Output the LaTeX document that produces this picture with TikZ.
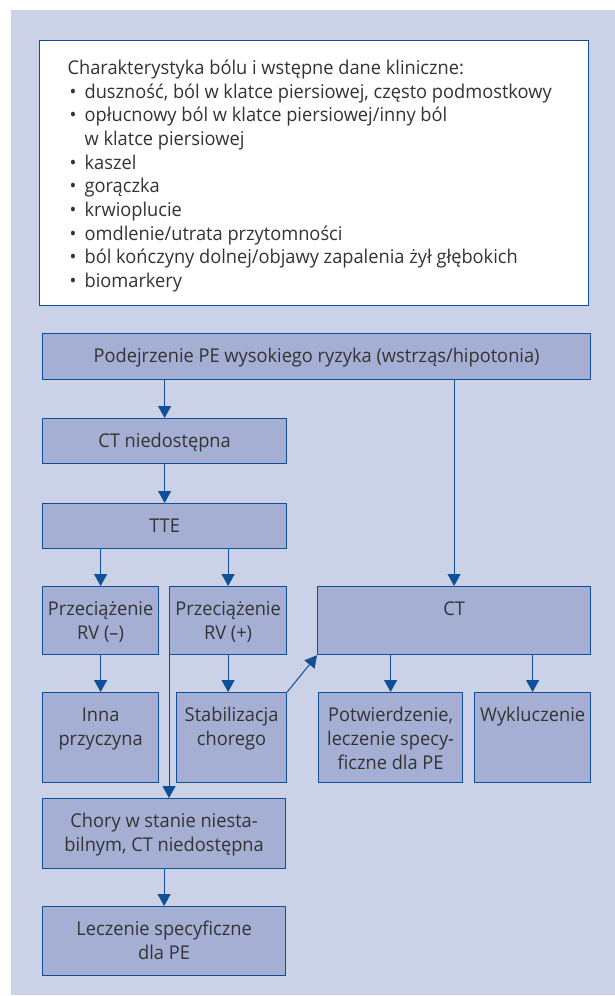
\documentclass[tikz,border=0pt]{standalone}
\usepackage{fontspec}
\setmainfont{Open Sans}[FakeStretch=0.96]
\usepackage{xcolor}
\usetikzlibrary{positioning,arrows.meta}
\definecolor{bgblue}{HTML}{CBD1E6}
\definecolor{boxblue}{HTML}{A5AFD3}
\definecolor{lineblue}{HTML}{0F4F97}
\definecolor{txtgray}{HTML}{333333}
\newcommand{\boxtext}[3]{\parbox[c][#2][t]{#1}{\centering\rule{0pt}{29pt}#3}}
\newcommand{\blt}{\makebox[17pt][l]{\hspace{2pt}\textbullet}}

\begin{document}
\begin{tikzpicture}[x=1pt,y=-1pt,
        box/.style={draw=lineblue,fill=boxblue,line width=1.2pt,inner sep=0pt,anchor=north west,text=txtgray,font=\fontsize{19}{24}\selectfont},
        infobox/.style={draw=lineblue,fill=white,line width=1.2pt,inner xsep=28pt,inner ysep=0pt,anchor=north west,text=txtgray,font=\fontsize{19}{23.67}\selectfont},
        arrow/.style={-{Triangle[length=12pt,width=13pt]},line width=1pt,draw=lineblue}]
    \useasboundingbox (0,0) rectangle (615,996);
    \fill[bgblue] (11,10) rectangle (615,995);
    \node[infobox] (info) at (39,40) {\parbox[c][265pt][t]{493pt}{\raggedright\rule{0pt}{34pt}Charakterystyka bólu i wstępne dane kliniczne:\\
        \blt duszność, ból w klatce piersiowej, często podmostkowy\\
        \blt opłucnowy ból w klatce piersiowej/inny ból\\
        \makebox[17pt]{}w klatce piersiowej\\
        \blt kaszel\\
        \blt gorączka\\
        \blt krwioplucie\\
        \blt omdlenie/utrata przytomności\\
        \blt ból kończyny dolnej/objawy zapalenia żył głębokich\\
        \blt biomarkery}};
    % gorna sciezka
    \node[box] (susp) at (42,333) {\boxtext{548pt}{46pt}{Podejrzenie PE wysokiego ryzyka (wstrząs/hipotonia)}};
    \node[box] (noct) at (42,418) {\boxtext{244pt}{45pt}{CT niedostępna}};
    \node[box] (tte) at (42,503) {\boxtext{244pt}{45pt}{TTE}};
    \node[box] (rvneg) at (42,586) {\boxtext{116pt}{68pt}{Przeciążenie\\RV (–)}};
    \node[box] (rvpos) at (169,586) {\boxtext{117pt}{68pt}{Przeciążenie\\RV (+)}};
    \node[box] (ct) at (317,586) {\boxtext{273pt}{68pt}{CT}};
    % dolny rzad
    \node[box] (other) at (42,692) {\boxtext{116pt}{90pt}{Inna\\przyczyna}};
    \node[box] (stab) at (176,692) {\boxtext{110pt}{90pt}{Stabilizacja\\chorego}};
    \node[box] (conf) at (318,692) {\boxtext{144pt}{90pt}{Potwierdzenie,\\leczenie specy-\\ficzne dla PE}};
    \node[box] (excl) at (474,692) {\boxtext{116pt}{90pt}{Wykluczenie}};
    \node[box] (unst) at (42,798) {\boxtext{243pt}{70pt}{Chory w stanie niesta-\\bilnym, CT niedostępna}};
    \node[box] (treat) at (42,906) {\boxtext{243pt}{69pt}{Leczenie specyficzne\\dla PE}};
    \draw[arrow] (susp.south -| noct.north) -- (noct.north);
    \draw[arrow] (susp.south -| ct.north) -- (ct.north);
    \draw[arrow] (noct) -- (tte);
    \draw[arrow] (tte.south -| rvneg.north) -- (rvneg.north);
    \draw[arrow] (tte.south -| rvpos.north) -- (rvpos.north);
    \draw[arrow] (rvneg) -- (other);
    \draw[arrow] (rvpos.south) -- (rvpos.south |- stab.north);
    \draw[arrow] (rvpos.south west) -- (rvpos.south west |- unst.north);
    \draw[arrow] (stab.north east) -- (ct.south west);
    \draw[arrow] (ct.south -| conf.north) -- (conf.north);
    \draw[arrow] (ct.south -| excl.north) -- (excl.north);
    \draw[arrow] (unst.south -| treat.north) -- (treat.north);
\end{tikzpicture}
\end{document}
